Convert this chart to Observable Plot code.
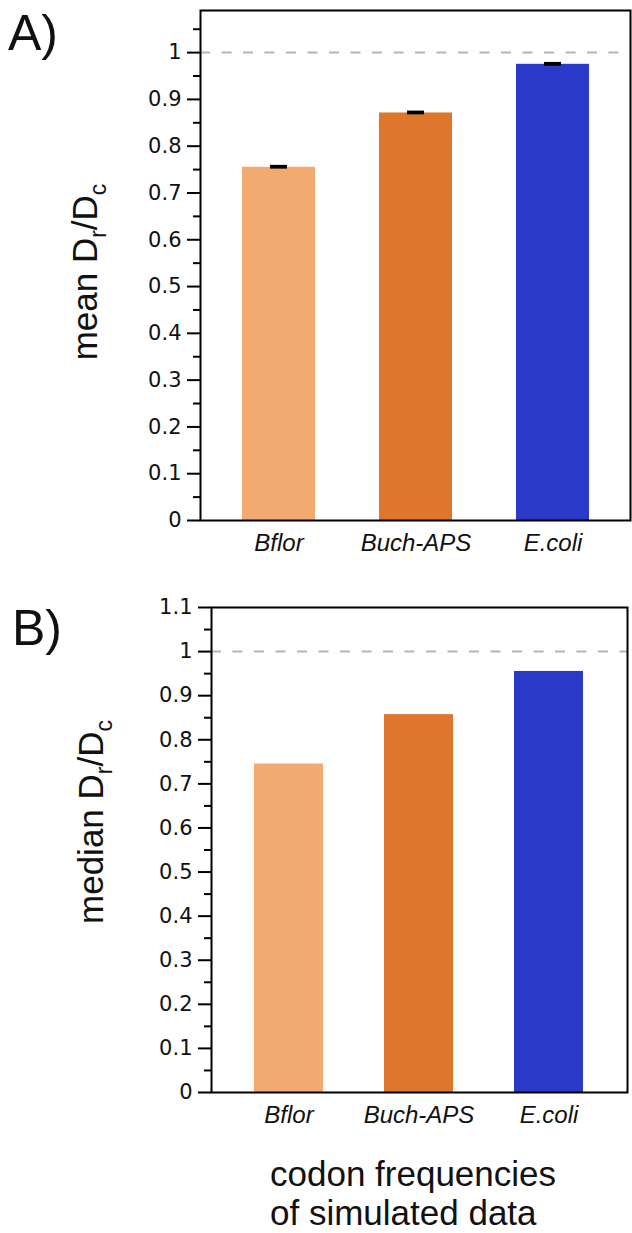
<!DOCTYPE html>
<html><head><meta charset="utf-8">
<script src="https://cdn.jsdelivr.net/npm/d3@7"></script>
<script src="https://cdn.jsdelivr.net/npm/@observablehq/plot@0.6"></script>
<style>
html,body{margin:0;padding:0;background:#fff;}
#root{position:relative;width:632px;height:1233px;overflow:hidden;font-family:"Liberation Sans",Arial,sans-serif;}
#root > svg{position:absolute;left:0;}
</style></head><body><div id="root"></div>
<script>
const categories = ["Bflor", "Buch-APS", "E.coli"];
const meanValues = [0.755, 0.871, 0.975];
const meanErrors = [0.004, 0.004, 0.004];
const medianValues = [0.745, 0.857, 0.955];
const barColors = ["#F3AA70", "#DE762B", "#2B39C8"];
const yTicksA = [0, 0.1, 0.2, 0.3, 0.4, 0.5, 0.6, 0.7, 0.8, 0.9, 1];
const yMinorA = [0.05, 0.15, 0.25, 0.35, 0.45, 0.55, 0.65, 0.75, 0.85, 0.95, 1.05];
const yTicksB = [0, 0.1, 0.2, 0.3, 0.4, 0.5, 0.6, 0.7, 0.8, 0.9, 1, 1.1];
const yMinorB = [0.05, 0.15, 0.25, 0.35, 0.45, 0.55, 0.65, 0.75, 0.85, 0.95, 1.05];
const referenceLine = [1];
const panelTags = ["A)", "B)"];
const yTitles = [["mean D", "r", "/D", "c"], ["median D", "r", "/D", "c"]];
const captionLines = ["codon frequencies", "of simulated data"];

function makePanel({values, errors, yTicks, yMinor, yMax, height, marginLeft, marginRight, paddingInner, paddingOuter, errInset}) {
  const data = categories.map((c, i) => ({cat: c, v: values[i], e: errors ? errors[i] : 0}));
  const marks = [
    Plot.barY(data, {x: "cat", y: "v", fill: "cat"}),
    Plot.ruleY(referenceLine, {stroke: "#b5b5b5", strokeWidth: 2, strokeDasharray: "10,11.5"})
  ];
  if (errors) {
    marks.push(Plot.barY(data, {x: "cat", y1: d => d.v - d.e, y2: d => d.v + d.e, fill: "black", insetLeft: errInset, insetRight: errInset}));
  }
  marks.push(
    Plot.axisY({ticks: yMinor, tickSize: 7, fill: "none", stroke: "black", strokeWidth: 2, label: null}),
    Plot.axisY({ticks: yTicks, tickSize: 13, tickPadding: 6, tickFormat: d3.format("~g"), fontSize: 21, fontFamily: "DejaVu Sans", stroke: "black", fill: "#111", strokeWidth: 2, label: null}),
    Plot.axisX({tickSize: 0, tickPadding: 13, fontSize: 24, fontStyle: "italic", fontFamily: "Liberation Sans", fill: "#111", label: null}),
    Plot.frame({stroke: "black", strokeWidth: 2})
  );
  return Plot.plot({
    width: 632, height,
    marginTop: 10, marginBottom: 40, marginLeft, marginRight,
    x: {domain: categories, paddingInner, paddingOuter},
    y: {domain: [0, yMax]},
    color: {domain: categories, range: barColors},
    style: {background: "transparent", overflow: "visible"},
    marks
  });
}

function addTitle(svg, parts, x, y) {
  const t = d3.select(svg).append("text")
    .attr("transform", `translate(${x},${y}) rotate(-90)`)
    .attr("text-anchor", "middle")
    .attr("fill", "#111")
    .style("font-family", "'Liberation Sans', Arial, sans-serif")
    .style("font-size", "35px");
  t.append("tspan").text(parts[0]);
  t.append("tspan").attr("dy", 9).style("font-size", "23px").text(parts[1]);
  t.append("tspan").attr("dy", -9).style("font-size", "35px").text(parts[2]);
  t.append("tspan").attr("dy", 9).style("font-size", "23px").text(parts[3]);
}

const root = document.getElementById("root");

const plotA = makePanel({values: meanValues, errors: meanErrors, yTicks: yTicksA, yMinor: yMinorA, yMax: 1.09,
  height: 560, marginLeft: 200, marginRight: 2, paddingInner: 0.47, paddingOuter: 0.3, errInset: 28});
plotA.style.top = "0px";
addTitle(plotA, yTitles[0], 97, 272);
root.appendChild(plotA);

const plotB = makePanel({values: medianValues, errors: null, yTicks: yTicksB, yMinor: yMinorB, yMax: 1.1,
  height: 535, marginLeft: 211, marginRight: 5, paddingInner: 0.467, paddingOuter: 0.333, errInset: 0});
plotB.style.top = "597px";
addTitle(plotB, yTitles[1], 103, 225);
root.appendChild(plotB);

const overlay = d3.select(root).append("svg")
  .attr("width", 632).attr("height", 1233)
  .style("top", "0px")
  .style("font-family", "'Liberation Sans', Arial, sans-serif");
overlay.append("text").attr("x", 8).attr("y", 50).style("font-size", "50px").attr("fill", "#111").text(panelTags[0]);
overlay.append("text").attr("x", 12).attr("y", 645).style("font-size", "50px").attr("fill", "#111").text(panelTags[1]);
captionLines.forEach((line, i) => {
  overlay.append("text").attr("x", 270).attr("y", 1186 + i * 39).style("font-size", "35px").attr("fill", "#111").text(line);
});
</script></body></html>
